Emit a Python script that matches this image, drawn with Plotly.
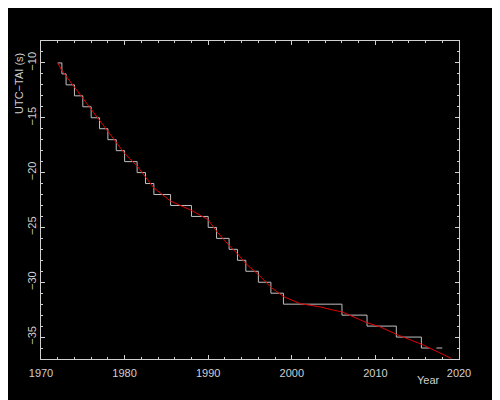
import plotly.graph_objects as go

# Leap-second steps: UTC-TAI (s) starting at each epoch
leap_years = [1972.0, 1972.5, 1973.0, 1974.0, 1975.0, 1976.0, 1977.0, 1978.0, 1979.0, 1980.0,
              1981.5, 1982.5, 1983.5, 1985.5, 1988.0, 1990.0, 1991.0, 1992.5, 1993.5, 1994.5,
              1996.0, 1997.5, 1999.0, 2006.0, 2009.0, 2012.5, 2015.5]
utc_tai = [-10, -11, -12, -13, -14, -15, -16, -17, -18, -19,
           -20, -21, -22, -23, -24, -25, -26, -27, -28, -29,
           -30, -31, -32, -33, -34, -35, -36]

# Continuation of the last step (dashed)
tail_years = [2015.5, 2018.0]
tail_values = [-36, -36]

# Smooth red curve (UT1-TAI, s)
curve_years = [1972.0, 1972.5, 1973.0, 1974.0, 1975.0, 1976.0, 1977.0, 1978.0, 1979.0, 1980.0,
               1981.5, 1982.5, 1983.5, 1985.5, 1988.0, 1990.0, 1991.0, 1992.5, 1993.5, 1994.5,
               1996.0, 1997.5, 1999.0, 2001.0, 2003.4, 2005.0, 2006.0, 2008.1, 2009.0, 2010.5,
               2012.5, 2015.5, 2019.1]
curve_values = [-10.0, -10.7, -11.2, -12.2, -13.2, -14.25, -15.25, -16.25, -17.27, -18.25,
                -19.4, -20.45, -21.4, -22.6, -23.45, -24.3, -25.35, -26.65, -27.4, -28.3,
                -29.3, -30.45, -31.3, -31.95, -32.25, -32.55, -32.7, -33.4, -33.7, -34.05,
                -34.75, -35.65, -36.95]

AX = "#d0d0d0"
FONT = dict(family="Liberation Sans, Arial, sans-serif", size=11, color=AX)

fig = go.Figure()
fig.add_trace(go.Scatter(x=leap_years, y=utc_tai, mode="lines", line_shape="hv",
                         line=dict(color="#c0c0c0", width=1), hoverinfo="skip"))
fig.add_trace(go.Scatter(x=tail_years, y=tail_values, mode="lines",
                         line=dict(color="#c0c0c0", width=1, dash="8px,7px"), hoverinfo="skip"))
fig.add_trace(go.Scatter(x=curve_years, y=curve_values, mode="lines",
                         line=dict(color="#e00000", width=1), hoverinfo="skip"))

axis_common = dict(showline=True, linecolor=AX, linewidth=1, mirror="allticks",
                   ticks="inside", tickcolor=AX, tickwidth=1, ticklen=4,
                   showgrid=False, zeroline=False, tickfont=FONT, automargin=False)

fig.update_xaxes(range=[1970, 2020], dtick=10, tick0=1970,
                 minor=dict(dtick=2, ticks="inside", ticklen=2, tickcolor=AX, showgrid=False),
                 ticklabelstandoff=4, **axis_common)
fig.update_yaxes(range=[-37, -8], dtick=5, tick0=0, tickangle=-90,
                 minor=dict(dtick=1, ticks="inside", ticklen=2, tickcolor=AX, showgrid=False),
                 ticklabelstandoff=0, **axis_common)

fig.add_annotation(text="Year", xref="paper", yref="paper",
                   x=(428 - 41) / 418, y=-(380 - 359) / 318, xanchor="center", yanchor="middle",
                   showarrow=False, font=FONT)
fig.add_annotation(text="UTC\u2212TAI (s)", xref="paper", yref="paper", textangle=-90,
                   x=-(41 - 19) / 418, y=(359 - 84) / 318, xanchor="center", yanchor="middle",
                   showarrow=False, font=FONT)

# page body has an 8px margin; compensate so the plot box lands at 41..459 x 41..359
fig.update_layout(width=492, height=392, margin=dict(l=33, r=41, t=33, b=41),
                  paper_bgcolor="black", plot_bgcolor="black", showlegend=False)

fig.write_html("out.html")
